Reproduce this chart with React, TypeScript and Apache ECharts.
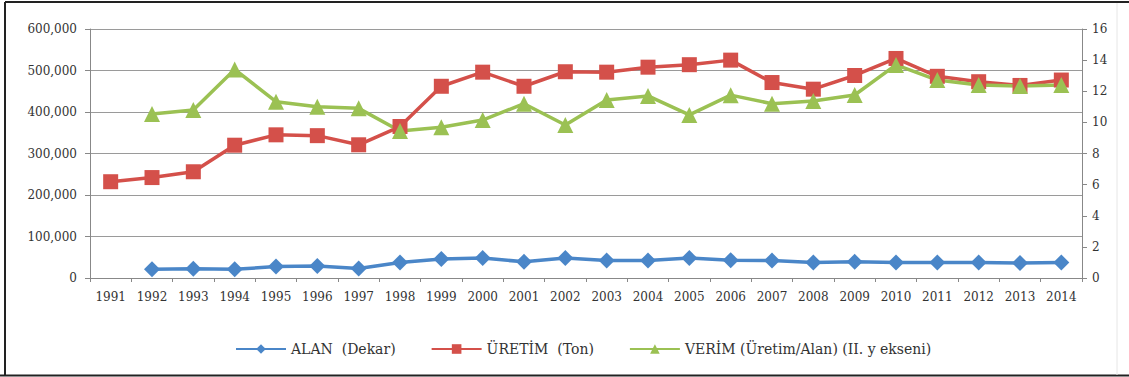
import React, { useEffect, useRef } from "react";
import * as echarts from "echarts";

const years = [
  "1991", "1992", "1993", "1994", "1995", "1996", "1997", "1998", "1999", "2000",
  "2001", "2002", "2003", "2004", "2005", "2006", "2007", "2008", "2009", "2010",
  "2011", "2012", "2013", "2014",
];

const alan = [
  null, 21000, 22500, 21000, 27500, 29000, 23000, 37500, 46000, 48000,
  39000, 48000, 42000, 42000, 48000, 43000, 42000, 37500, 39000, 37500,
  37500, 37500, 36000, 37500,
];

const uretim = [
  232000, 242000, 256000, 320000, 345000, 343000, 321000, 365000, 462000, 496000,
  462000, 497000, 496000, 508000, 514000, 525000, 471000, 455000, 488000, 529000,
  486000, 473000, 464000, 477000,
];

const verim = [
  null, 10.54, 10.8, 13.4, 11.33, 11.0, 10.9, 9.45, 9.69, 10.15,
  11.2, 9.83, 11.44, 11.7, 10.48, 11.75, 11.2, 11.37, 11.76, 13.69,
  12.72, 12.4, 12.34, 12.4,
];

const seriesNames = ["ALAN  (Dekar)", "ÜRETİM  (Ton)", "VERİM (Üretim/Alan) (II. y ekseni)"];
const colors = ["#4A86C8", "#D4504A", "#9BC153"];

const FONT = "DejaVu Serif";

export default function App() {
  const ref = useRef<HTMLDivElement>(null);

  useEffect(() => {
    document.body.style.margin = "0";
    if (!ref.current) return;
    const chart = echarts.init(ref.current, null, { renderer: "svg" });
    const axisLabel = { fontFamily: FONT, fontSize: 12, color: "#333" };
    chart.setOption({
      animation: false,
      backgroundColor: "#fff",
      grid: { left: 90, right: 47, top: 29, bottom: 99 },
      legend: {
        left: 230,
        top: 337,
        itemWidth: 50,
        itemHeight: 12,
        itemGap: 35,
        textStyle: { fontFamily: FONT, fontSize: 14, color: "#333" },
        data: seriesNames,
      },
      xAxis: {
        type: "category",
        data: years,
        boundaryGap: true,
        axisLine: { lineStyle: { color: "#888" } },
        axisTick: { show: true, length: 4, lineStyle: { color: "#888" } },
        axisLabel: { ...axisLabel, margin: 13 },
      },
      yAxis: [
        {
          type: "value",
          min: 0,
          max: 600000,
          interval: 100000,
          axisLine: { show: true, lineStyle: { color: "#888" } },
          axisTick: { show: true, length: 5, lineStyle: { color: "#888" } },
          axisLabel: {
            ...axisLabel,
            margin: 13,
            formatter: (v: number) => v.toLocaleString("en-US"),
          },
          splitLine: { lineStyle: { color: "#9a9a9a", width: 1.2 } },
        },
        {
          type: "value",
          min: 0,
          max: 16,
          interval: 2,
          position: "right",
          axisLine: { show: true, lineStyle: { color: "#888" } },
          axisTick: { show: true, length: 5, lineStyle: { color: "#888" } },
          axisLabel: { ...axisLabel, margin: 10 },
          splitLine: { show: false },
        },
      ],
      series: [
        {
          name: seriesNames[0],
          type: "line",
          data: alan,
          yAxisIndex: 0,
          symbol: "diamond",
          symbolSize: 16,
          lineStyle: { width: 3.5, color: colors[0] },
          itemStyle: { color: colors[0] },
        },
        {
          name: seriesNames[1],
          type: "line",
          data: uretim,
          yAxisIndex: 0,
          symbol: "rect",
          symbolSize: 15,
          lineStyle: { width: 3.5, color: colors[1] },
          itemStyle: { color: colors[1] },
        },
        {
          name: seriesNames[2],
          type: "line",
          data: verim,
          yAxisIndex: 1,
          symbol: "triangle",
          symbolSize: 16,
          lineStyle: { width: 3.5, color: colors[2] },
          itemStyle: { color: colors[2] },
        },
      ],
      graphic: [
        { type: "line", shape: { x1: 5, y1: 2, x2: 1129, y2: 2 }, style: { stroke: "#222", lineWidth: 2 } },
        { type: "line", shape: { x1: 5, y1: 2, x2: 5, y2: 376 }, style: { stroke: "#222", lineWidth: 2 } },
        { type: "line", shape: { x1: 0, y1: 375.5, x2: 1129, y2: 375.5 }, style: { stroke: "#222", lineWidth: 2 } },
        { type: "line", shape: { x1: 1117, y1: 3, x2: 1117, y2: 375 }, style: { stroke: "#e6e6e6", lineWidth: 1 } },
      ],
    });
    return () => chart.dispose();
  }, []);

  return <div ref={ref} style={{ width: 1129, height: 377 }} />;
}
